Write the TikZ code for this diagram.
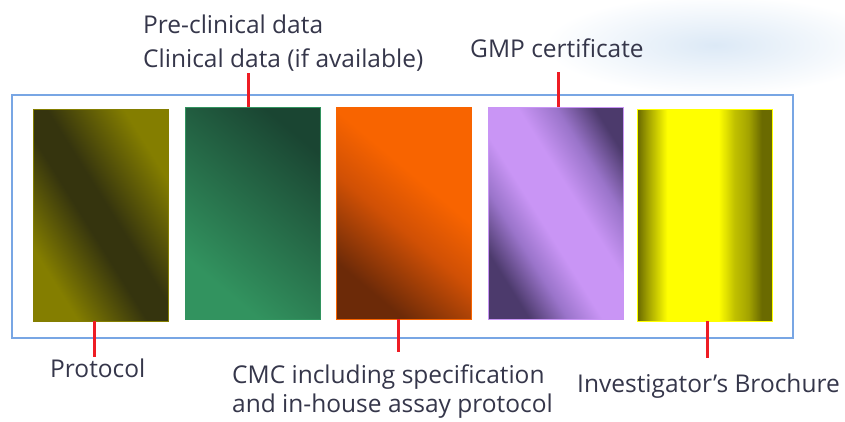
\documentclass[tikz,border=0pt]{standalone}
\usepackage{fontspec}
\setmainfont{Open Sans}
\usepackage{tikz}
\usetikzlibrary{calc}
\definecolor{txt}{HTML}{35364A}
\definecolor{leadred}{HTML}{EE1C24}
\definecolor{frm}{HTML}{78A6E4}
\definecolor{cloud}{HTML}{DCE9F6}
\definecolor{olv}{HTML}{847E00}
\definecolor{olvdk}{HTML}{35340E}
\definecolor{grnlt}{HTML}{32935F}
\definecolor{grndk}{HTML}{1A4532}
\definecolor{orgdk}{HTML}{6C2A08}
\definecolor{orgmd}{HTML}{D05005}
\definecolor{orglt}{HTML}{F86400}
\definecolor{prpdk}{HTML}{4C3A6C}
\definecolor{prpmd}{HTML}{9A74CA}
\definecolor{prplt}{HTML}{C995F5}
\definecolor{ylwdk}{HTML}{6A6A00}
\definecolor{ylwmd}{HTML}{A4A400}
\definecolor{ylw}{HTML}{FFFF00}
% fills of the five documents
\pgfdeclarehorizontalshading{protoshade}{100bp}{color(0bp)=(olv); color(27bp)=(olv);
  color(45bp)=(olvdk); color(53bp)=(olvdk); color(73bp)=(olv); color(100bp)=(olv)}
\pgfdeclarehorizontalshading{preshade}{100bp}{color(0bp)=(grnlt); color(28bp)=(grnlt);
  color(75bp)=(grndk); color(100bp)=(grndk)}
\pgfdeclarehorizontalshading{cmcshade}{100bp}{color(0bp)=(orgdk); color(27bp)=(orgdk);
  color(46bp)=(orgmd); color(60bp)=(orglt); color(100bp)=(orglt)}
\pgfdeclarehorizontalshading{gmpshade}{100bp}{color(0bp)=(prpdk); color(26bp)=(prpdk);
  color(36bp)=(prpmd); color(45bp)=(prplt); color(57bp)=(prplt); color(67bp)=(prpmd);
  color(77bp)=(prpdk); color(100bp)=(prpdk)}
\pgfdeclarehorizontalshading{ibshade}{100bp}{color(0bp)=(ylwdk); color(25bp)=(ylwdk);
  color(29bp)=(ylwmd); color(36bp)=(ylw); color(55bp)=(ylw); color(61bp)=(ylwmd!70!ylw);
  color(66bp)=(ylwmd); color(71bp)=(ylwdk); color(100bp)=(ylwdk)}
\tikzset{
  doc/.style={shade,minimum width=135pt,minimum height=212pt,inner sep=0pt,line width=0.8pt},
  lead/.style={draw=leadred,line width=3pt},
  frame/.style={draw=frm,line width=1.6pt,minimum width=781pt,minimum height=243pt,inner sep=0pt},
  labeltext/.style={font=\fontsize{24.5}{34}\selectfont,text=txt,align=left,inner sep=0pt}
}

\begin{document}
\begin{tikzpicture}[x=1pt,y=-1pt]
\useasboundingbox (0,0) rectangle (845,421);
\shade[inner color=cloud,outer color=white] (715,45) ellipse [x radius=170pt,y radius=50pt];
\node[frame] (frm) at (402.5,216.5) {};
% documents
\node[doc,draw=olv,shading=protoshade,shading angle=32] (proto) at (101,215) {};
\node[doc,draw=grnlt,shading=preshade,shading angle=50] (preclin) at (253,213) {};
\node[doc,draw=orglt,shading=cmcshade,shading angle=50] (cmc) at (404,213) {};
\node[doc,draw=prplt,shading=gmpshade,shading angle=32] (gmp) at (556,213) {};
\node[doc,draw=ylw,shading=ibshade] (ib) at (705,215) {};
% labels
\node[labeltext,anchor=north west] (tpre) at (143,15) {Pre-clinical data\\Clinical data (if available)};
\node[labeltext,anchor=base west] (tgmp) at (470,57) {GMP certificate};
\node[labeltext,anchor=base west] (tproto) at (50,377) {Protocol};
\node[labeltext,anchor=north west,font=\fontsize{24.5}{28.5}\selectfont] (tcmc) at (232,365)
  {CMC including specification\\and in-house assay protocol};
\node[labeltext,anchor=base west] (tib) at (577,392) {Investigator's Brochure};
% leads
\coordinate (pcend) at (248,73);
\coordinate (gmpend) at (558,72);
\coordinate (protoend) at (94,357);
\coordinate (cmcend) at (398,352);
\coordinate (ibend) at (707,358);
\draw[lead] (pcend) -- (pcend |- preclin.north);
\draw[lead] (gmpend) -- (gmpend |- gmp.north);
\draw[lead] (protoend |- proto.south) -- (protoend);
\draw[lead] (cmcend |- cmc.south) -- (cmcend);
\draw[lead] (ibend |- ib.south) -- (ibend);
\end{tikzpicture}
\end{document}
